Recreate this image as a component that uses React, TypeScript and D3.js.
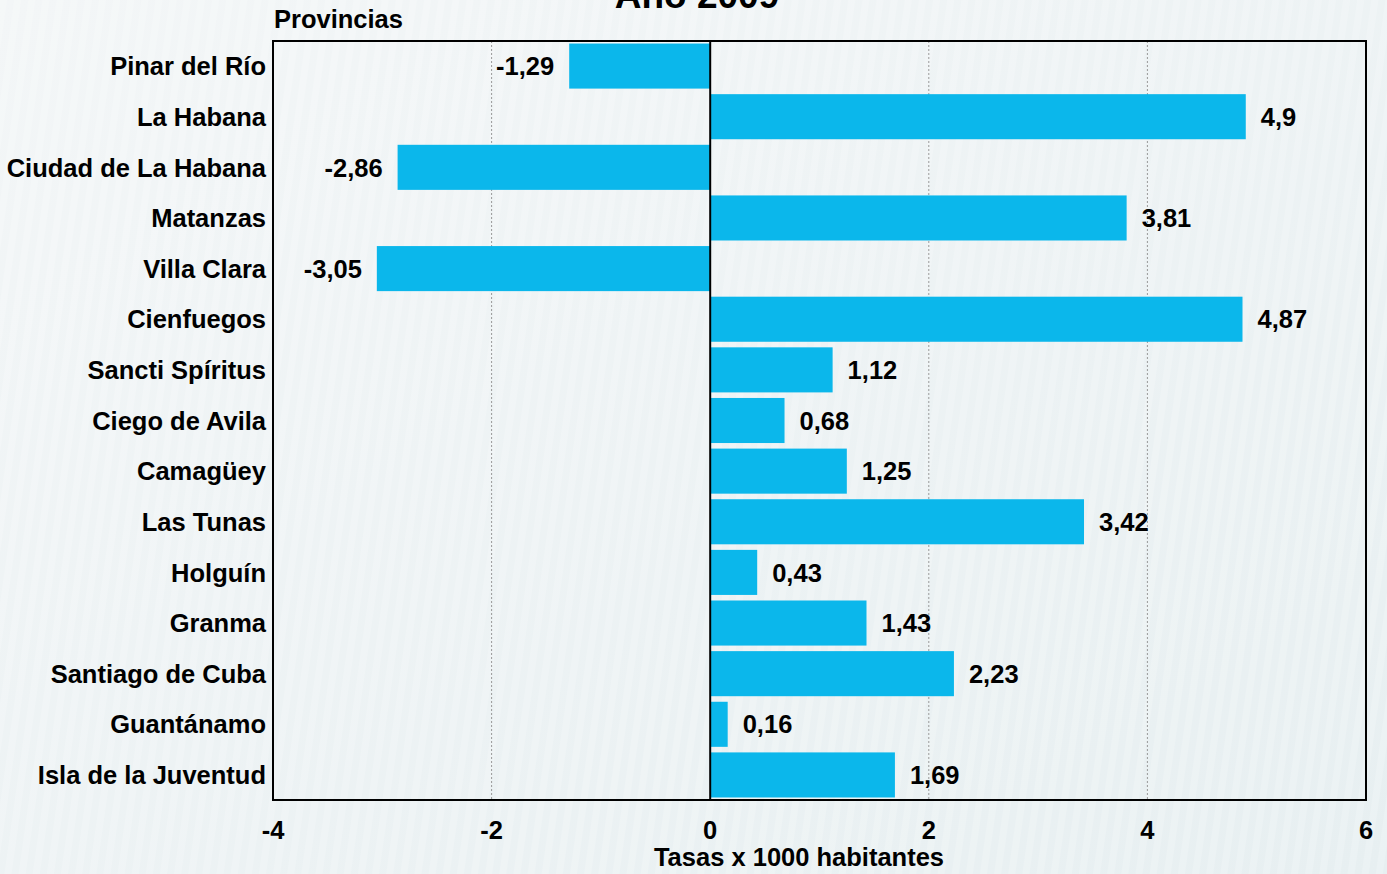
import React from "react";
import * as d3 from "d3";

const categories = [
  "Pinar del Río",
  "La Habana",
  "Ciudad de La Habana",
  "Matanzas",
  "Villa Clara",
  "Cienfuegos",
  "Sancti Spíritus",
  "Ciego de Avila",
  "Camagüey",
  "Las Tunas",
  "Holguín",
  "Granma",
  "Santiago de Cuba",
  "Guantánamo",
  "Isla de la Juventud",
];
const values = [-1.29, 4.9, -2.86, 3.81, -3.05, 4.87, 1.12, 0.68, 1.25, 3.42, 0.43, 1.43, 2.23, 0.16, 1.69];
const valueLabels = ["-1,29", "4,9", "-2,86", "3,81", "-3,05", "4,87", "1,12", "0,68", "1,25", "3,42", "0,43", "1,43", "2,23", "0,16", "1,69"];
const xTicks = [-4, -2, 0, 2, 4, 6];
const title = "Año 2009";
const yTitle = "Provincias";
const xTitle = "Tasas x 1000 habitantes";

const W = 1387;
const H = 874;
const left = 273;
const right = 1366;
const top = 41;
const bottom = 800;
const font = "'Liberation Sans', Arial, sans-serif";
const fs = 25.5;

export default function App() {
  const x = d3.scaleLinear().domain([-4, 6]).range([left, right]);
  const y = d3.scaleBand<string>().domain(categories).range([top, bottom]).paddingInner(0.11).paddingOuter(0.05);
  const bw = y.bandwidth();

  return (
    <svg width={W} height={H} style={{ position: "absolute", left: 0, top: 0, display: "block" }} fontFamily={font}>
      <defs>
        <linearGradient id="bg" x1="0" y1="0" x2="1" y2="1">
          <stop offset="0" stopColor="#f3f6f7" />
          <stop offset="1" stopColor="#e7eff1" />
        </linearGradient>
        <pattern id="stripes" width="14" height="14" patternUnits="userSpaceOnUse" patternTransform="rotate(8)">
          <rect width="7" height="14" fill="#ffffff" opacity="0.18" />
        </pattern>
      </defs>
      <rect width={W} height={H} fill="url(#bg)" />
      <rect width={W} height={H} fill="url(#stripes)" />

      <text x={697} y={8} textAnchor="middle" fontWeight="bold" fontSize={37} fill="#000">{title}</text>
      <text x={274} y={28} fontWeight="bold" fontSize={fs} fill="#000">{yTitle}</text>

      {/* grid */}
      {xTicks.filter((t) => t !== 0 && t !== -4 && t !== 6).map((t) => (
        <line key={t} x1={x(t)} x2={x(t)} y1={top} y2={bottom} stroke="#999" strokeWidth={1} strokeDasharray="2,2" />
      ))}

      {/* bars */}
      {categories.map((c, i) => {
        const v = values[i];
        const x0 = x(Math.min(0, v));
        const x1 = x(Math.max(0, v));
        const yy = y(c)!;
        return (
          <g key={c}>
            <rect x={x0} y={yy} width={x1 - x0} height={bw} fill="#0bb7eb" />
            <text
              x={v >= 0 ? x1 + 15 : x0 - 15}
              y={yy + bw / 2}
              dy="0.36em"
              textAnchor={v >= 0 ? "start" : "end"}
              fontWeight="bold"
              fontSize={fs}
              fill="#000"
            >
              {valueLabels[i]}
            </text>
            <text x={266} y={yy + bw / 2} dy="0.36em" textAnchor="end" fontWeight="bold" fontSize={fs} fill="#000">
              {c}
            </text>
          </g>
        );
      })}

      {/* zero line */}
      <line x1={x(0)} x2={x(0)} y1={top} y2={bottom} stroke="#000" strokeWidth={2} />
      {/* frame */}
      <rect x={left} y={top} width={right - left} height={bottom - top} fill="none" stroke="#000" strokeWidth={2} />

      {xTicks.map((t) => (
        <text key={t} x={x(t)} y={830} dy="0.36em" textAnchor="middle" fontWeight="bold" fontSize={fs} fill="#000">
          {t}
        </text>
      ))}
      <text x={799} y={866} textAnchor="middle" fontWeight="bold" fontSize={fs} fill="#000">{xTitle}</text>
    </svg>
  );
}
